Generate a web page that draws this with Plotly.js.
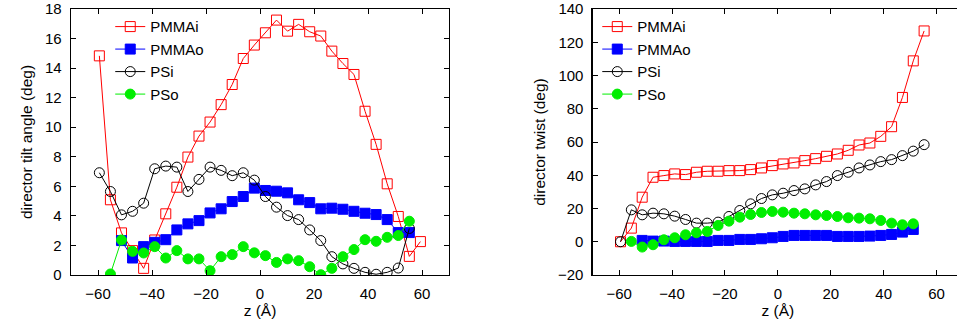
<!DOCTYPE html>
<html>
<head>
<meta charset="utf-8">
<script src="https://cdn.plot.ly/plotly-3.0.1.min.js"></script>
<style>
html,body{margin:0;padding:0;overflow:hidden;background:#fff;}
#chart{width:965px;height:330px;}
</style>
</head>
<body>
<div id="chart"></div>
<script>
// z positions (Å)
const z = [-59.5, -55.4, -51.3, -47.2, -43.1, -39.0, -34.9, -30.8, -26.7, -22.6,
           -18.5, -14.4, -10.3, -6.2, -2.1, 2.0, 6.1, 10.2, 14.3, 18.4,
           22.5, 26.6, 30.7, 34.8, 38.9, 43.0, 47.1, 51.2, 55.3, 59.4];

const seriesNames = ["PMMAi", "PMMAo", "PSi", "PSo"];

// director tilt angle (deg)
const tiltPMMAi = [14.83, 5.09, 2.85, 1.65, 0.45, 2.37, 4.14, 5.94, 7.98, 9.4,
                   10.35, 11.53, 12.89, 14.65, 15.56, 16.39, 17.25, 16.5, 16.96, 16.46,
                   16.17, 15.15, 14.31, 13.57, 11.08, 8.84, 6.17, 3.96, 1.26, 2.26];
const tiltPMMAo = [null, null, 2.33, 1.15, 1.92, 2.21, 2.39, 3.05, 3.46, 3.68,
                   4.2, 4.48, 4.97, 5.31, 5.88, 5.72, 5.67, 5.56, 5.09, 4.9,
                   4.48, 4.52, 4.45, 4.31, 4.18, 4.09, 3.75, 2.87, 2.87, null];
const tiltPSi   = [6.92, 5.65, 4.07, 4.31, 4.86, 7.19, 7.37, 7.3, 5.65, 6.47,
                   7.3, 7.08, 6.72, 6.92, 6.42, 5.31, 4.59, 4.02, 3.75, 3.05,
                   2.33, 1.24, 0.75, 0.45, 0.18, 0.05, 0.18, 0.47, 3.15, null];
const tiltPSo   = [null, 0.07, 2.37, 1.6, 1.49, 1.92, 1.15, 1.65, 1.09, 1.09,
                   0.29, 1.24, 1.38, 1.92, 1.5, 1.31, 0.85, 1.09, 0.97, 0.56,
                   0.02, 0.45, 1.24, 1.72, 2.39, 2.28, 2.55, 2.67, 3.64, null];

// director twist (deg)
const twistPMMAi = [0, 8.2, 26.8, 38.8, 39.8, 40.8, 40.4, 41.8, 42.4, 42.4,
                    42.8, 42.8, 43.4, 44.4, 45.8, 46.8, 47.4, 48.8, 50, 51.4,
                    52.8, 55, 58.2, 59.4, 63.4, 69.2, 86.8, 108.8, 126.8, null];
const twistPMMAo = [null, null, 0.8, 0.4, 0.4, 0.2, 0.2, 0.2, 0.2, 0.8,
                    0.8, 1.4, 1.4, 1.8, 2.4, 3.2, 3.8, 3.8, 3.8, 3.8,
                    3.2, 3.2, 3.2, 3.4, 3.8, 4.4, 5.8, 7.4, null, null];
const twistPSi   = [0, 19.2, 16.2, 17.2, 16.8, 15.4, 13.4, 11.2, 11.2, 11.8,
                    15.2, 18.8, 22.8, 26, 28.2, 29.2, 30.8, 31.8, 34.2, 36.2,
                    39.8, 41.8, 44.4, 46.2, 48.2, 49.4, 51.8, 54.5, 58.4, null];
const twistPSo   = [null, 0.2, -3.2, -1.8, 1.2, 2.4, 4.2, 5.4, 6.2, 9.8,
                    12.4, 14.8, 16.4, 17.6, 18.2, 17.8, 17.2, 16.8, 16.2, 15.8,
                    15.2, 14.4, 14.2, 13.8, 12.8, 11.2, 10.2, 10.8, null, null];

const xTickVals = [-60, -40, -20, 0, 20, 40, 60];
const xTickText = ["\u221260", "\u221240", "\u221220", "0", "20", "40", "60"];
const twistTickVals = [-20, 0, 20, 40, 60, 80, 100, 120, 140];
const twistTickText = ["\u221220", "0", "20", "40", "60", "80", "100", "120", "140"];

const styles = [
  {color: "#ff0000", symbol: "square-open", size: 10},
  {color: "#0000ff", symbol: "square", size: 10},
  {color: "#000000", symbol: "circle-open", size: 10},
  {color: "#00ee00", symbol: "circle", size: 10}
];

function mk(y, i, xa, ya, leg) {
  const s = styles[i];
  return {
    x: z, y: y, type: "scatter", mode: "lines+markers",
    name: seriesNames[i], xaxis: xa, yaxis: ya, legend: leg,
    line: {color: s.color, width: 1},
    marker: {color: s.color, symbol: s.symbol, size: s.size,
             line: {color: s.color, width: 1}},
    cliponaxis: true
  };
}

const data = [
  mk(tiltPMMAi, 0, "x", "y", "legend"),
  mk(tiltPMMAo, 1, "x", "y", "legend"),
  mk(tiltPSi, 2, "x", "y", "legend"),
  mk(tiltPSo, 3, "x", "y", "legend"),
  mk(twistPMMAi, 0, "x2", "y2", "legend2"),
  mk(twistPMMAo, 1, "x2", "y2", "legend2"),
  mk(twistPSi, 2, "x2", "y2", "legend2"),
  mk(twistPSo, 3, "x2", "y2", "legend2")
];

const FONT = "Liberation Sans, Arial, Helvetica, sans-serif";
const TF = 15;
const axBase = {
  showline: true, linecolor: "#000", linewidth: 1.3, mirror: "ticks",
  ticks: "inside", ticklen: 5, tickwidth: 1, tickcolor: "#000",
  showgrid: false, zeroline: false,
  tickfont: {family: FONT, size: TF, color: "#000"}
};

const layout = {
  width: 965, height: 330,
  margin: {l: 71, r: 2, t: 9, b: 55},
  paper_bgcolor: "#fff", plot_bgcolor: "#fff",
  font: {family: FONT, size: TF, color: "#000"},
  showlegend: true,
  xaxis: Object.assign({}, axBase, {
    domain: [0, 0.4238], range: [-70, 70], tickvals: xTickVals, ticktext: xTickText,
    ticklabelstandoff: 5,
    title: {text: "z (Å)", font: {family: FONT, size: 15.5}, standoff: 4}
  }),
  yaxis: Object.assign({}, axBase, {
    domain: [0, 1], range: [0, 18], dtick: 2, ticklabelstandoff: 5,
    title: {text: "director tilt angle (deg)", font: {family: FONT, size: 15.5}, standoff: 8}
  }),
  xaxis2: Object.assign({}, axBase, {
    domain: [0.5849, 1], range: [-70, 70], anchor: "y2",
    tickvals: xTickVals, ticktext: xTickText,
    ticklabelstandoff: 5,
    title: {text: "z (Å)", font: {family: FONT, size: 15.5}, standoff: 4}
  }),
  yaxis2: Object.assign({}, axBase, {
    domain: [0, 1], range: [-20, 140], anchor: "x2",
    tickvals: twistTickVals, ticktext: twistTickText,
    ticklabelstandoff: 5,
    title: {text: "director twist (deg)", font: {family: FONT, size: 15.5}, standoff: 8}
  }),
  legend: {
    x: 0.044, y: 0.995, xanchor: "left", yanchor: "top",
    bgcolor: "rgba(0,0,0,0)", borderwidth: 0,
    font: {family: FONT, size: 15, color: "#000"}, tracegroupgap: 0
  },
  legend2: {
    x: 0.590, y: 0.995, xanchor: "left", yanchor: "top",
    bgcolor: "rgba(0,0,0,0)", borderwidth: 0,
    font: {family: FONT, size: 15, color: "#000"}, tracegroupgap: 0
  }
};

Plotly.newPlot("chart", data, layout, {displayModeBar: false, staticPlot: true});
</script>
</body>
</html>
